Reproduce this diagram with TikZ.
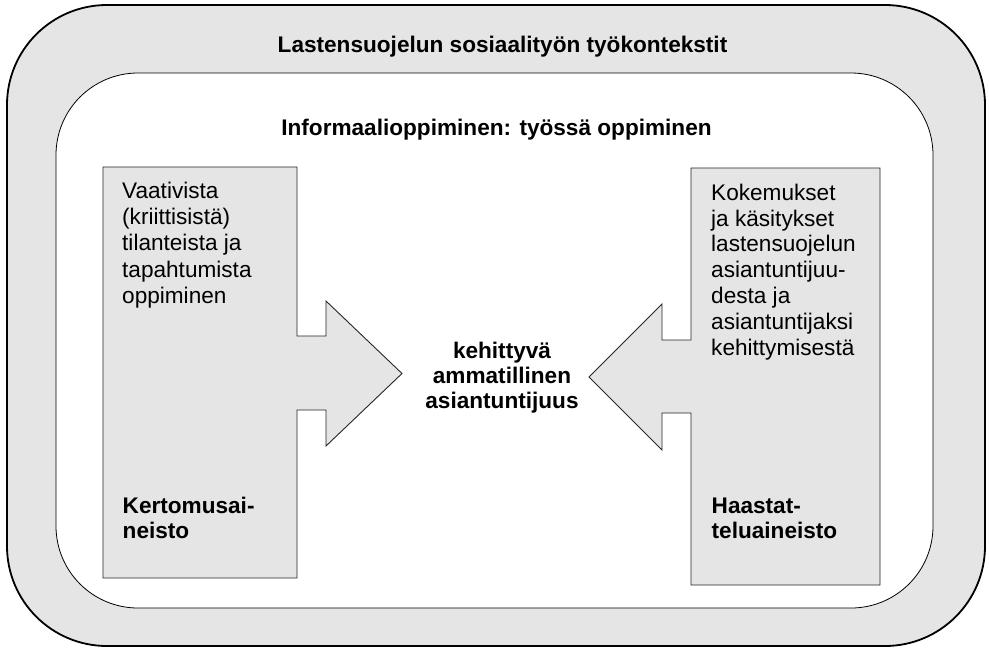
\documentclass[tikz,border=0pt]{standalone}
\usepackage{fontspec}
\setmainfont{Liberation Sans}
\begin{document}
\begin{tikzpicture}[x=1pt,y=-1pt,
  panel/.style={fill=black!10},
  frameline/.style={draw=black, line width=1.8pt},
  innerline/.style={draw=black, line width=0.8pt},
  boxline/.style={draw=black!85, line width=0.9pt, fill=black!10, line join=miter},
  bodytext/.style={inner sep=0pt, align=left, font=\fontsize{22.6}{26.2}\selectfont},
  boldtext/.style={inner sep=0pt, font=\fontsize{22.6}{25}\selectfont\bfseries},
]
\useasboundingbox (0,0) rectangle (989,649);

% outer working-context frame
\draw[panel, frameline, rounded corners=100pt] (7,5) rectangle (985,646);
% inner learning frame
\draw[fill=white, innerline, rounded corners=82pt] (56,73) rectangle (933,608);

% left box with arrow pointing right
\draw[boxline] (103,167) -- (297,167) -- (297,336) -- (326,336) -- (326,301)
  -- (402,373.5) -- (326,446) -- (326,410) -- (297,410) -- (297,578)
  -- (103,578) -- cycle;

% right box with arrow pointing left
\draw[boxline] (691,168) -- (880,168) -- (880,585) -- (691,585) -- (691,413)
  -- (662,413) -- (662,450) -- (589,377) -- (662,304) -- (662,340)
  -- (691,340) -- cycle;

% headings
\node[boldtext, anchor=base] (context) at (502.5,52) {Lastensuojelun sosiaalityön työkontekstit};
\node[boldtext, anchor=base] (informal) at (496.5,135.7) {Informaalioppiminen: työssä oppiminen};

% box texts (multi-line nodes: base anchor sits on the last line)
\node[bodytext, anchor=base west] (critical) at (122,303.3)
  {Vaativista\\(kriittisistä)\\tilanteista ja\\tapahtumista\\oppiminen};
\node[boldtext, align=left, anchor=base west] (narrative) at (122.5,538)
  {Kertomusai-\\neisto};

\node[bodytext, anchor=base west, font=\fontsize{22.6}{25.8}\selectfont] (views) at (711,355)
  {Kokemukset\\ja käsitykset\\lastensuojelun\\asiantuntijuu-\\desta ja\\asiantuntijaksi\\kehittymisestä};
\node[boldtext, align=left, anchor=base west] (interview) at (711.5,538.5)
  {Haastat-\\teluaineisto};

% centre
\node[boldtext, align=center, anchor=base] (expertise) at (502,408)
  {kehittyvä\\ammatillinen\\asiantuntijuus};
\end{tikzpicture}
\end{document}
